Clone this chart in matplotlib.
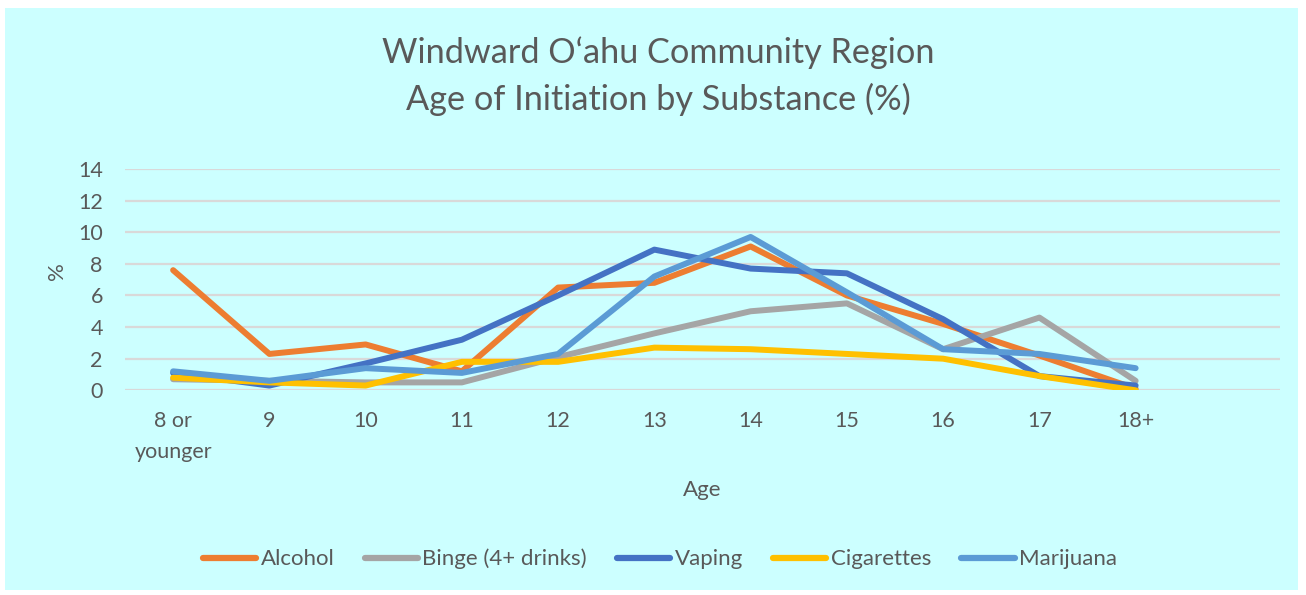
import numpy as np
import matplotlib
matplotlib.use('Agg')
import matplotlib.pyplot as plt
from matplotlib.patches import Rectangle

# valores (% por idade de iniciacao)
idades = ['8 or\nyounger', '9', '10', '11', '12', '13', '14', '15', '16', '17', '18+']
alcohol = [7.6, 2.3, 2.9, 1.2, 6.5, 6.8, 9.1, 6.0, 4.2, 2.2, 0.1]
binge = [0.7, 0.6, 0.5, 0.5, 2.1, 3.6, 5.0, 5.5, 2.6, 4.6, 0.6]
vaping = [1.1, 0.3, 1.7, 3.2, 6.0, 8.9, 7.7, 7.4, 4.5, 0.9, 0.3]
cigarettes = [0.8, 0.5, 0.3, 1.8, 1.8, 2.7, 2.6, 2.3, 2.0, 0.9, 0.0]
marijuana = [1.2, 0.6, 1.4, 1.1, 2.3, 7.2, 9.7, 6.2, 2.6, 2.3, 1.4]

series = [('Alcohol', alcohol, '#ED7D31'),
          ('Binge (4+ drinks)', binge, '#A5A5A5'),
          ('Vaping', vaping, '#4472C4'),
          ('Cigarettes', cigarettes, '#FFC000'),
          ('Marijuana', marijuana, '#5B9BD5')]

plt.rcParams['font.family'] = ['Lato', 'DejaVu Sans']
cor_texto = '#595959'

fig = plt.figure(figsize=(13.06, 5.95), dpi=100)
fig.patch.set_facecolor('white')
fig.patches.append(Rectangle((5 / 1306, 5 / 595), 1293 / 1306, 582 / 595,
                             transform=fig.transFigure, facecolor='#CCFFFF',
                             edgecolor='none', zorder=-10))

ax = fig.add_axes([125 / 1306, 1 - 390.3 / 595, 1155 / 1306, 221.3 / 595])
ax.set_facecolor('none')

x = np.arange(len(idades))
for nome, vals, cor in series:
    ax.plot(x, vals, color=cor, lw=4.3, solid_capstyle='round',
            solid_joinstyle='round', label=nome)

ax.set_xlim(-0.5, 11.5)
ax.set_ylim(0, 14)
ax.set_yticks(range(0, 15, 2))
ax.set_xticks(x)
ax.set_xticklabels(idades, fontsize=15.5, color=cor_texto, linespacing=1.65)
ax.tick_params(axis='y', length=0, pad=16, labelsize=15.5, labelcolor=cor_texto)
ax.tick_params(axis='x', length=0, pad=15)
ax.grid(axis='y', color='#D9D9D9', lw=1.6)
ax.set_axisbelow(True)
for s in ax.spines.values():
    s.set_visible(False)

fig.text(57 / 1306, 1 - 271 / 595, '%', rotation=90, ha='center', va='center',
         fontsize=16, color=cor_texto)
fig.text(702 / 1306, 1 - 490 / 595, 'Age', ha='center', va='center',
         fontsize=16, color=cor_texto)
fig.text(658 / 1306, 1 - 76 / 595, 'Windward O\u2018ahu Community Region\nAge of Initiation by Substance (%)',
         ha='center', va='center', fontsize=24.7, color=cor_texto, linespacing=1.5)

leg = fig.legend(loc='center', bbox_to_anchor=(660 / 1306, 1 - 559 / 595), ncol=5,
                 frameon=False, fontsize=16, handlelength=2.4, handletextpad=0.2,
                 columnspacing=1.35, labelcolor=cor_texto)
for h in leg.get_lines():
    h.set_linewidth(4.5)
    h.set_solid_capstyle('round')

fig.savefig('out.png', dpi=100, facecolor=fig.get_facecolor())
